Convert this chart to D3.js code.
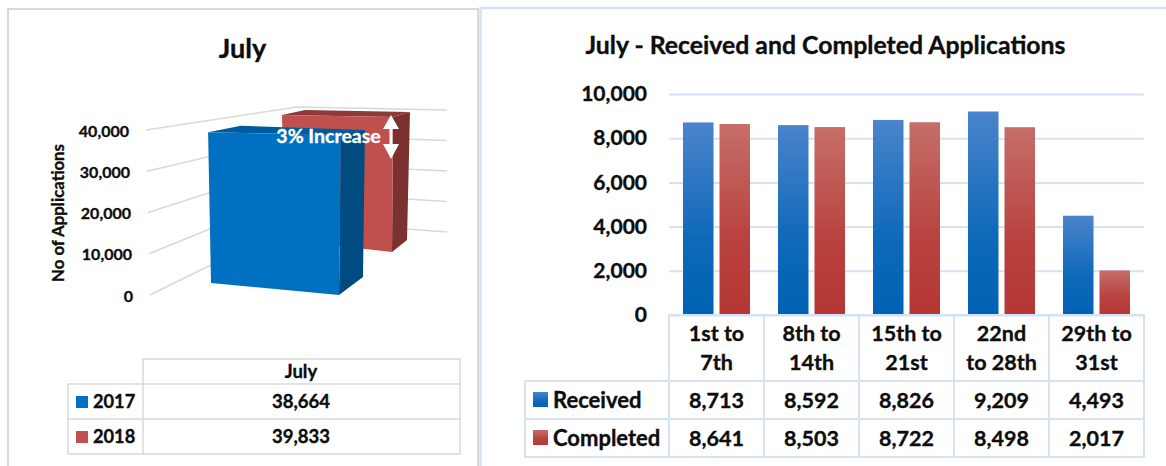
<!DOCTYPE html>
<html>
<head>
    <meta charset='utf-8'>
    <title>July Applications</title>
    <script src='https://cdn.jsdelivr.net/npm/d3@7/dist/d3.min.js'></script>
    <style>
        html, body { margin: 0; padding: 0; background: #fff; }
        svg { display: block; }
        text { font-family: Lato, 'Open Sans', sans-serif; font-weight: 700; fill: #0d0d0d; stroke: #0d0d0d; stroke-width: 0.35px; }
    </style>
</head>
<body>
    <svg width='1166' height='466'></svg>
    <script type='text/javascript'>
        const years = ['2017', '2018']
        const yearTotals = [38664, 39833]
        const yearTicks = [0, 10000, 20000, 30000, 40000]
        const periods = [['1st to', '7th'], ['8th to', '14th'], ['15th to', '21st'], ['22nd', 'to 28th'], ['29th to', '31st']]
        const seriesNames = ['Received', 'Completed']
        const received = [8713, 8592, 8826, 9209, 4493]
        const completed = [8641, 8503, 8722, 8498, 2017]
        const periodTicks = [0, 2000, 4000, 6000, 8000, 10000]

        const svg = d3.select('svg')
        const fmt = d3.format(',')
        const defs = svg.append('defs')

        function gradient(id, top, bottom) {
            const g = defs.append('linearGradient').attr('id', id)
                .attr('x1', 0).attr('y1', 0).attr('x2', 0).attr('y2', 1)
            g.append('stop').attr('offset', '0%').attr('stop-color', top)
            g.append('stop').attr('offset', '60%').attr('stop-color', d3.interpolateRgb(top, bottom)(0.8))
            g.append('stop').attr('offset', '100%').attr('stop-color', bottom)
        }
        gradient('blueGrad', '#4a84cc', '#0062b4')
        gradient('redGrad', '#c66e69', '#b53735')

        // panel frames
        const frames = svg.append('g').attr('fill', 'none')
        frames.append('path').attr('d', 'M8,466V9H478V466').attr('stroke', '#d9d9d9').attr('stroke-width', 2)
        frames.append('path').attr('d', 'M480.5,466V8H1166').attr('stroke', '#d5e2f4').attr('stroke-width', 2.5)

        drawLeft()
        drawRight()

        function drawLeft() {
            const g = svg.append('g')
            const maxV = 40000

            // each edge of the 3d box: value -> screen position
            const edge = (x0, y0, x1, y1) => ({
                x: d3.scaleLinear([0, maxV], [x0, x1]),
                y: d3.scaleLinear([0, maxV], [y0, y1])
            })
            const wallFront = edge(150, 295, 146, 130)
            const wallCorner = edge(300, 221, 297, 107)
            const wallRight = edge(447, 232, 447, 110)

            g.selectAll('.grid').data(yearTicks).enter().append('polyline')
                .attr('class', 'grid')
                .attr('fill', 'none').attr('stroke', '#d9d9d9').attr('stroke-width', 1.5)
                .attr('points', d => [wallFront, wallCorner, wallRight].map(e => [e.x(d), e.y(d)].join(',')).join(' '))

            g.selectAll('.ytick').data(yearTicks).enter().append('text')
                .attr('class', 'ytick')
                .attr('x', d => wallFront.x(d) - 17)
                .attr('y', d => wallFront.y(d) + 1)
                .attr('dy', '0.35em')
                .attr('text-anchor', 'end')
                .style('font-size', '16px')
                .text(fmt)

            const boxes = [
                {
                    front: '#0070c0', side: '#004b80', top: '#005b9e',
                    fl: edge(211, 283, 208, 127), fr: edge(339, 295, 341, 129.5),
                    br: edge(363, 277, 365, 125), bl: edge(243, 266, 241, 121)
                },
                {
                    front: '#c0504d', side: '#7a3130', top: '#8d3a38',
                    fl: edge(285, 240, 282, 114.5), fr: edge(392, 252, 393, 116.4),
                    br: edge(407, 240, 410, 111.5), bl: edge(308, 230, 305, 109.5)
                }
            ]
            const pt = (e, v) => [e.x(v), e.y(v)]
            const line = d3.line()
            // back bar first so the 2017 bar covers it
            d3.range(years.length).reverse().forEach(i => {
                const b = boxes[i], v = yearTotals[i]
                g.append('path').attr('fill', b.side)
                    .attr('d', line([pt(b.fr, 0), pt(b.br, 0), pt(b.br, v), pt(b.fr, v)]) + 'Z')
                g.append('path').attr('fill', b.top)
                    .attr('d', line([pt(b.fl, v), pt(b.bl, v), pt(b.br, v), pt(b.fr, v)]) + 'Z')
                g.append('path').attr('fill', b.front)
                    .attr('d', line([pt(b.fl, 0), pt(b.fr, 0), pt(b.fr, v), pt(b.fl, v)]) + 'Z')
            })

            g.append('text').attr('x', 242.5).attr('y', 58).attr('text-anchor', 'middle')
                .style('font-size', '27px').text('July')

            g.append('text').attr('transform', 'translate(64,213) rotate(-90)')
                .attr('text-anchor', 'middle')
                .style('font-size', '16.8px').text('No of Applications')

            g.append('text').attr('x', 328.5).attr('y', 143).attr('text-anchor', 'middle')
                .style('font-size', '19.5px').style('fill', '#fff').style('stroke', '#fff').text('3% Increase')

            g.append('path').attr('fill', '#fff')
                .attr('d', 'M391,115L399,129H392.5V144H399L391,159L383,144H389.5V129H383Z')

            // data table
            const tg = g.append('g')
            const rowY = d3.scaleBand().domain(years).range([384, 454])
            const stroke = (sel) => sel.attr('stroke', '#d9d9d9').attr('stroke-width', 1.5).attr('fill', 'none')
            stroke(tg.append('path')).attr('d', 'M143,384V359H460V454H68V384H460M68,419H460M143,384V454')

            tg.append('text').attr('x', 301).attr('y', 378).attr('text-anchor', 'middle')
                .style('font-size', '18.5px').text('July')
            const rows = tg.selectAll('.row').data(years).enter().append('g').attr('class', 'row')
            rows.append('rect')
                .attr('x', 76).attr('width', 12).attr('height', 12)
                .attr('y', d => rowY(d) + rowY.bandwidth() / 2 - 5.5)
                .attr('fill', (d, i) => boxes[i].front)
            rows.append('text').attr('x', 93)
                .attr('y', d => rowY(d) + rowY.bandwidth() / 2)
                .attr('dy', '0.35em')
                .style('font-size', '18.2px').text(d => d)
            rows.append('text').attr('x', 301)
                .attr('y', d => rowY(d) + rowY.bandwidth() / 2)
                .attr('dy', '0.35em')
                .attr('text-anchor', 'middle')
                .style('font-size', '18.5px').text((d, i) => fmt(yearTotals[i]))
        }

        function drawRight() {
            const g = svg.append('g')
            const x = d3.scaleBand().domain(d3.range(periods.length)).range([669, 1144])
            const y = d3.scaleLinear().domain([0, 10000]).range([315, 94])
            const sub = d3.scaleBand().domain([0, 1]).range([14, 81]).paddingInner(0.164)

            g.append('text').attr('x', 825.5).attr('y', 54).attr('text-anchor', 'middle')
                .style('font-size', '24.8px').text('July - Received and Completed Applications')

            const axis = g.append('g').attr('transform', 'translate(669,0)')
                .call(d3.axisLeft(y).tickValues(periodTicks).tickFormat(fmt).tickSize(-(1144 - 669)).tickPadding(22))
            axis.select('.domain').remove()
            axis.selectAll('.tick line').attr('stroke', '#d5e2f4').attr('stroke-width', 2)
            axis.selectAll('.tick text').attr('text-anchor', 'end').style('font-size', '21px')

            const series = [received, completed]
            const fills = ['url(#blueGrad)', 'url(#redGrad)']
            series.forEach((vals, s) => {
                g.selectAll('.bar' + s).data(vals).enter().append('rect')
                    .attr('class', 'bar' + s)
                    .attr('x', (d, i) => x(i) + sub(s))
                    .attr('width', sub.bandwidth())
                    .attr('y', d => y(d))
                    .attr('height', d => y(0) - y(d))
                    .attr('fill', fills[s])
            })

            // data table under the axis
            const tg = g.append('g')
            const rowY = d3.scaleBand().domain(seriesNames).range([381, 457])
            const border = tg.append('g').attr('stroke', '#d5e2f4').attr('stroke-width', 2).attr('fill', 'none')
            border.append('path').attr('d', 'M669,381V315H1144V457H525V381H1144M525,419H1144')
            border.selectAll('.col').data(d3.range(1, periods.length)).enter().append('line')
                .attr('class', 'col')
                .attr('x1', d => x(d)).attr('x2', d => x(d)).attr('y1', 315).attr('y2', 457)
            border.append('line').attr('x1', 669).attr('x2', 669).attr('y1', 381).attr('y2', 457)

            const cx = i => x(i) + x.bandwidth() / 2
            periods.forEach((lines, i) => {
                lines.forEach((t, k) => {
                    tg.append('text').attr('x', cx(i)).attr('y', 341 + k * 29)
                        .attr('text-anchor', 'middle').style('font-size', '21.5px').text(t)
                })
            })
            seriesNames.forEach((name, s) => {
                const cy = rowY(name) + rowY.bandwidth() / 2
                tg.append('rect').attr('x', 533).attr('y', cy - 8).attr('width', 15).attr('height', 15).attr('fill', fills[s])
                tg.append('text').attr('x', 553).attr('y', cy).attr('dy', '0.35em').style('font-size', '22px').text(name)
                series[s].forEach((v, i) => {
                    tg.append('text').attr('x', cx(i)).attr('y', cy).attr('dy', '0.35em')
                        .attr('text-anchor', 'middle').style('font-size', '21.5px').text(fmt(v))
                })
            })
        }
    </script>
</body>
</html>
